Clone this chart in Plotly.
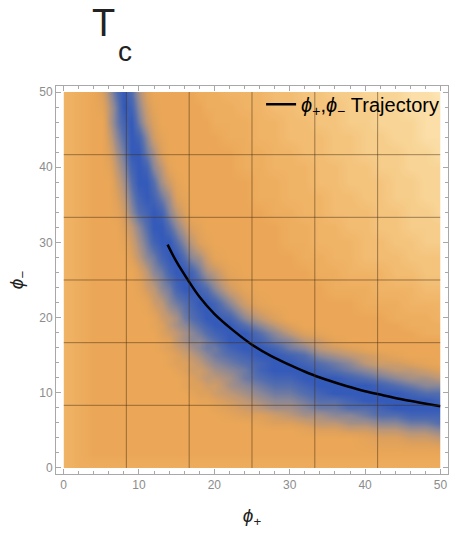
import plotly.graph_objects as go

# ---------------- data ----------------
# sample positions of the density plot (finer where the blue valley is narrow)
phi_plus_grid = [0, 2] + list(range(4, 21)) + list(range(22, 51, 2))
phi_minus_grid = list(range(50, 21, -2)) + list(range(20, 3, -1)) + [2, 0]   # top row first

# estimated T_c colour level on that grid, one character per sample:
# 0 = deep blue ... A = orange ... I = pale yellow (half steps of the colour scale)
tc_level_rows = [
    "CBA8520258AAAAAABBBCCCDDEEFFGGGHHI",  # phi- = 50
    "CBA96301479AAAAAABBBCCDDEEEFFGGHHH",  # 48
    "CBAA6310368AAAAAAABBBCCDDEEFFGGGHH",  # 46
    "CBAA74201479AAAAAAABBCCDDDEEFFGGHH",  # 44
    "CBAA85300358AAAAAAAABBCCDDEEFFFGGH",  # 42
    "CBAA964101469AAAAAAABBCCCDDEEFFGGG",  # 40
    "CBAAA752002579AAAAAAABBCCDDEEEFFGG",  # 38
    "CBAAA8631013589AAAAAABBCCCDDEEFFGG",  # 36
    "CBAAA9742101468AAAAAAABBCCDDDEEFFG",  # 34
    "CBAAAA86420024689AAAAAABBCCDDEEFFF",  # 32
    "CBAAAA975310024689AAAAABBCCCDDEEFF",  # 30
    "CBAAAAA864310024579AAAAABBCCDDDEEE",  # 28
    "CBAAAAAA864310013569AAAAABBCCCDDEE",  # 26
    "CBAAAAAA9764310012479AAAAABBBCCCDD",  # 24
    "CBAAAAAAA9764321001479AAAAAABBBCCC",  # 22
    "CBAAAAAAAA9765321001468AAAAAAABBBC",  # 20
    "CBAAAAAAAA98654321002468AAAAAAABBB",  # 19
    "CBAAAAAAAAA876543210024689AAAAAABB",  # 18
    "CBAAAAAAAAA9865443200134679AAAAAAA",  # 17
    "CBAAAAAAAAA987654331001346789AAAAA",  # 16
    "CBAAAAAAAAAA9876543210012456789AAA",  # 15
    "CBAAAAAAAAAA988765432100123467789A",  # 14
    "CBAAAAAAAAAAA987765431000123456678",  # 13
    "CBAAAAAAAAAAAA98766532110001234556",  # 12
    "CBAAAAAAAAAAAA98877543221000012344",  # 11
    "CBAAAAAAAAAAAAA9887654332100000122",  # 10
    "CBAAAAAAAAAAAAAA998765443221000001",  # 9
    "CBAAAAAAAAAAAAAAAA9876554332210000",  # 8
    "CBAAAAAAAAAAAAAAAAA988765544322111",  # 7
    "CBAAAAAAAAAAAAAAAAAAA9887665544332",  # 6
    "CBAAAAAAAAAAAAAAAAAAAAAA9887766554",  # 5
    "CBAAAAAAAAAAAAAAAAAAAAAAAAAA988776",  # 4
    "CBAAAAAAAAAAAAAAAAAAAAAAAAAAAAAAAA",  # 2
    "CBBBBBBBBBBBBBBBBBBBBBBBBBBBBBBBBB",  # 0
]

# phi_+, phi_- trajectory
traj_phi_plus = [13.8, 15.0, 16.5, 18.0, 20.0, 22.5, 25.0, 27.5, 30.0, 32.5,
                 35.0, 37.5, 40.0, 42.5, 45.0, 47.5, 50.0]
traj_phi_minus = [29.7, 27.4, 25.0, 22.8, 20.5, 18.3, 16.4, 14.9, 13.7, 12.6,
                  11.7, 10.9, 10.2, 9.65, 9.1, 8.65, 8.2]

tick_values = [0, 10, 20, 30, 40, 50]
grid_divisions = 6

# ---------------- build the figure ----------------
level_chars = "0123456789ABCDEFGHI"
assert len(tc_level_rows) == len(phi_minus_grid)
for r in tc_level_rows:
    assert len(r) == len(phi_plus_grid), r

z = [[level_chars.index(c) for c in row] for row in reversed(tc_level_rows)]
y_centers = list(reversed(phi_minus_grid))

level_colors = [
    "rgb(52,90,186)",
    "rgb(84,110,174)",
    "rgb(140,136,150)",
    "rgb(190,152,118)",
    "rgb(222,161,92)",
    "rgb(235,167,87)",
    "rgb(240,180,103)",
    "rgb(244,196,125)",
    "rgb(248,213,151)",
    "rgb(253,231,184)",
]
zmax = len(level_chars) - 1
colorscale = [[i / (len(level_colors) - 1), c] for i, c in enumerate(level_colors)]

lo, hi = phi_plus_grid[0], phi_plus_grid[-1]
x_frame = [-1, 51]
y_frame = [-0.8, 50.8]

fig = go.Figure()
# frame axes (x, y) carry only the ticks
fig.add_trace(go.Scatter(x=[], y=[], xaxis="x", yaxis="y", showlegend=False, hoverinfo="skip"))
# data axes (x2, y2) span exactly the plotted region, so the heatmap is clipped there
fig.add_trace(go.Heatmap(
    x=phi_plus_grid, y=y_centers, z=z, xaxis="x2", yaxis="y2",
    zmin=0, zmax=zmax, colorscale=colorscale, zsmooth="best",
    showscale=False, hoverinfo="skip", showlegend=False,
))
fig.add_trace(go.Scatter(
    x=traj_phi_plus, y=traj_phi_minus, mode="lines", xaxis="x2", yaxis="y2",
    line=dict(color="black", width=2.5, shape="spline"),
    name="<i>ϕ</i><sub>+</sub>,<i>ϕ</i><sub>−</sub> Trajectory",
    showlegend=True,
))

shapes = []
for k in range(1, grid_divisions):
    v = lo + (hi - lo) * k / grid_divisions
    shapes.append(dict(type="line", xref="x2", yref="y2", x0=v, x1=v, y0=lo, y1=hi,
                       line=dict(color="rgba(70,45,20,0.5)", width=1), layer="above"))
    shapes.append(dict(type="line", xref="x2", yref="y2", x0=lo, x1=hi, y0=v, y1=v,
                       line=dict(color="rgba(70,45,20,0.5)", width=1), layer="above"))

axis_common = dict(
    showline=True, linecolor="#a8a8a8", linewidth=1, mirror="allticks",
    ticks="inside", ticklen=5, tickcolor="#a8a8a8", tickwidth=1,
    tickvals=tick_values, showgrid=False, zeroline=False, automargin=False,
    tickfont=dict(family="Liberation Sans, Arial, sans-serif", size=12, color="#8c8c8c"),
    minor=dict(dtick=2, tick0=0, ticks="inside", ticklen=3, tickcolor="#a8a8a8", showgrid=False),
)

fx0 = (lo - x_frame[0]) / (x_frame[1] - x_frame[0])
fx1 = (hi - x_frame[0]) / (x_frame[1] - x_frame[0])
fy0 = (lo - y_frame[0]) / (y_frame[1] - y_frame[0])
fy1 = (hi - y_frame[0]) / (y_frame[1] - y_frame[0])

fig.update_layout(
    width=454, height=533,
    margin=dict(l=56, r=6, t=86, b=59),
    paper_bgcolor="white", plot_bgcolor="white",
    font=dict(family="Liberation Sans, Arial, sans-serif", color="#222222"),
    xaxis=dict(range=x_frame, domain=[0, 1], anchor="y",
               title=dict(text="<i>ϕ</i><sub>+</sub>",
                          font=dict(size=19, color="#222222"), standoff=17), **axis_common),
    yaxis=dict(range=y_frame, domain=[0, 1], anchor="x",
               title=dict(text="<i>ϕ</i><sub>−</sub>",
                          font=dict(size=19, color="#222222"), standoff=10), **axis_common),
    xaxis2=dict(range=[lo, hi], domain=[fx0, fx1], anchor="y2", visible=False, fixedrange=True),
    yaxis2=dict(range=[lo, hi], domain=[fy0, fy1], anchor="x2", visible=False, fixedrange=True),
    shapes=shapes,
    legend=dict(x=0.99, xanchor="right", y=0.953, yanchor="middle",
                bgcolor="rgba(0,0,0,0)", borderwidth=0,
                font=dict(size=20, color="black", family="Liberation Sans, Arial, sans-serif")),
    annotations=[
        dict(text="T", xref="paper", yref="paper", x=0.122, y=1.162,
             xanchor="center", yanchor="middle", showarrow=False,
             font=dict(size=38, color="#222222", family="Liberation Sans, Arial, sans-serif")),
        dict(text="c", xref="paper", yref="paper", x=0.176, y=1.088,
             xanchor="center", yanchor="middle", showarrow=False,
             font=dict(size=28, color="#222222", family="Liberation Sans, Arial, sans-serif")),
    ],
)

# the page should start at the window's top-left corner, like the reference
fig.write_html("out.html", config={"displayModeBar": False},
               post_script="document.body.style.margin='0';")
